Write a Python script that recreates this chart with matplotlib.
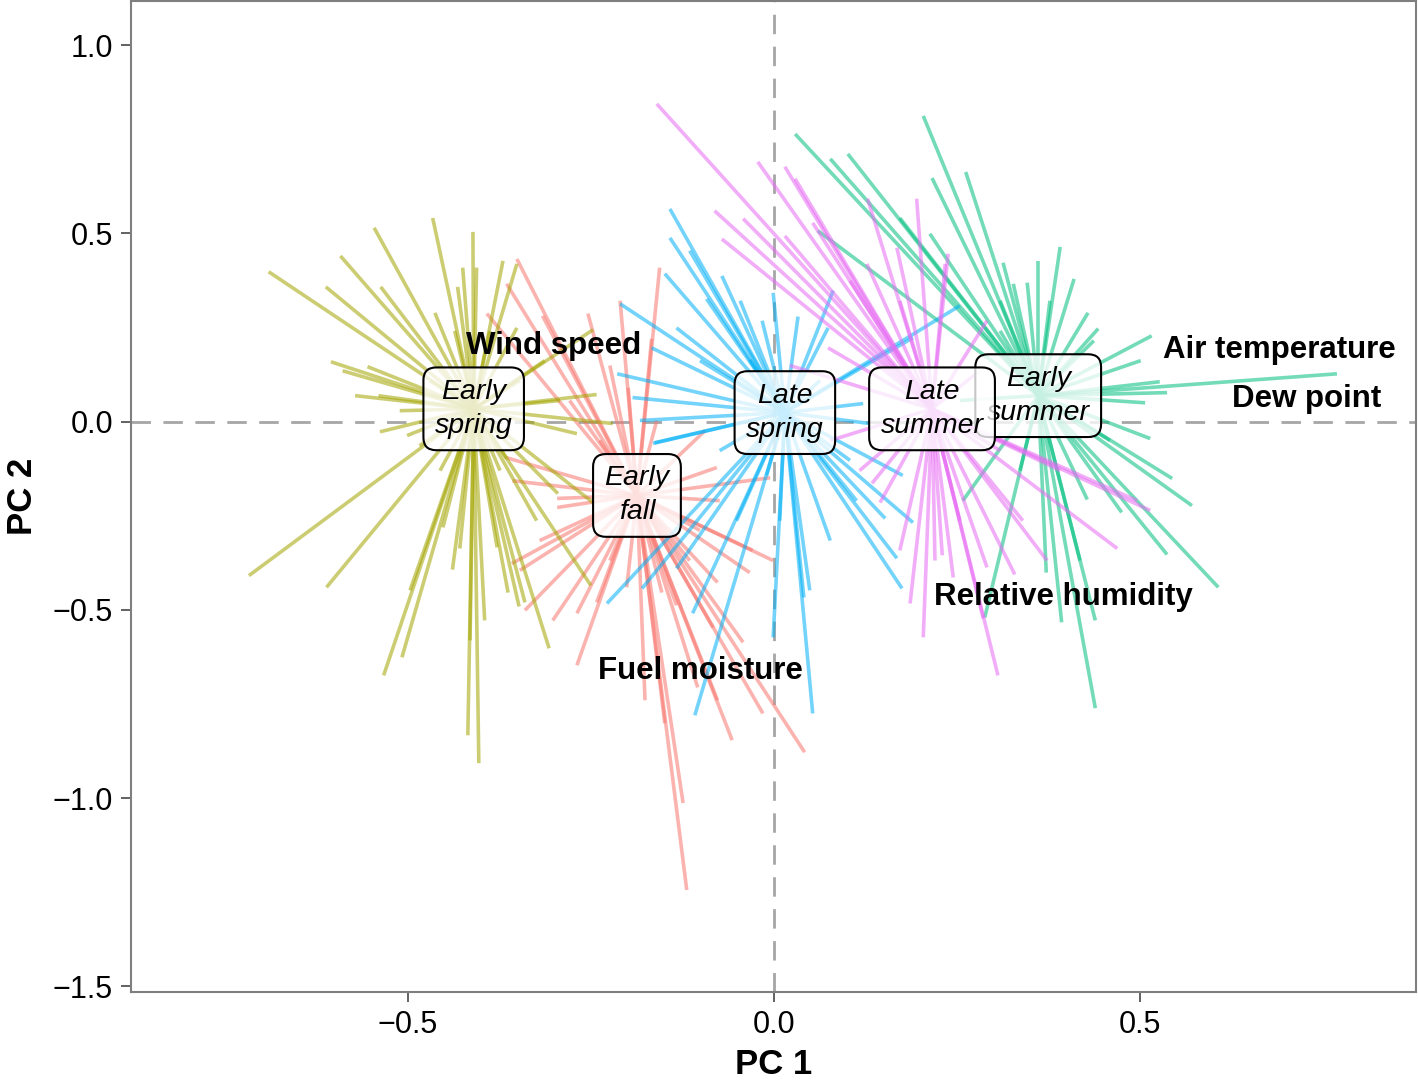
import matplotlib.pyplot as plt
import numpy as np

plt.rcParams['font.family'] = ['Liberation Sans', 'DejaVu Sans']

groups = ['Early fall', 'Early spring', 'Early summer', 'Late spring', 'Late summer']
group_labels = ['Early\nfall', 'Early\nspring', 'Early\nsummer', 'Late\nspring', 'Late\nsummer']
colors = ['#F8766D', '#A3A500', '#00BF7D', '#00B0F6', '#E76BF3']

# group centroids (PC1, PC2)
cent_x = [-0.187, -0.410, 0.361, 0.015, 0.216]
cent_y = [-0.196, 0.034, 0.069, 0.024, 0.034]

# observation scores per group
fall_x = [-0.351, -0.156, -0.365, -0.316, -0.254, -0.392, -0.224, -0.199, -0.365, -0.357,
          -0.296, -0.296, -0.005, -0.029, -0.101, -0.078, -0.358, -0.347, -0.340, -0.302,
          -0.269, -0.269, -0.242, -0.201, -0.153, -0.149, -0.124, -0.119, -0.104, -0.077,
          -0.057, -0.015, 0.042, -0.042, -0.083, -0.033, -0.001, -0.077, -0.133, -0.094,
          -0.074, -0.238, -0.279, -0.160, -0.115, -0.224, -0.320, -0.167, -0.210, -0.176]
fall_y = [0.432, 0.409, 0.366, 0.281, 0.287, 0.287, 0.149, 0.090, -0.096, -0.157,
          -0.204, -0.228, -0.149, -0.342, -0.289, -0.122, -0.377, -0.395, -0.501, -0.528,
          -0.509, -0.647, -0.480, -0.440, -0.454, -0.801, -1.013, -1.244, -0.706, -0.740,
          -0.846, -0.775, -0.878, -0.586, -0.547, -0.401, -0.369, -0.427, -0.488, -0.024,
          -0.210, -0.050, 0.056, 0.003, -0.369, -0.369, -0.316, 0.220, 0.321, -0.740]

espring_x = [-0.690, -0.592, -0.546, -0.466, -0.411, -0.612, -0.537, -0.463, -0.425, -0.406,
             -0.370, -0.351, -0.432, -0.351, -0.247, -0.605, -0.555, -0.589, -0.540, -0.242,
             -0.538, -0.501, -0.220, -0.269, -0.717, -0.611, -0.533, -0.508, -0.497, -0.439,
             -0.429, -0.418, -0.403, -0.363, -0.348, -0.340, -0.307, -0.250, -0.324, -0.295,
             -0.365, -0.247, -0.452, -0.378, -0.470, -0.347, -0.456, -0.374, -0.292, -0.511,
             -0.436, -0.388, -0.484, -0.313, -0.415, -0.395, -0.572]
espring_y = [0.398, 0.440, 0.515, 0.541, 0.504, 0.358, 0.358, 0.289, 0.409, 0.409,
             0.427, 0.419, 0.358, 0.249, 0.244, 0.159, 0.146, 0.135, 0.069, 0.072,
             -0.027, -0.037, -0.005, -0.032, -0.409, -0.440, -0.674, -0.626, -0.448, -0.393,
             -0.337, -0.833, -0.907, -0.454, -0.491, -0.480, -0.602, -0.435, -0.263, -0.191,
             -0.098, -0.215, -0.281, -0.334, 0.109, 0.109, -0.130, -0.130, 0.056, 0.029,
             0.241, 0.241, -0.064, 0.162, -0.581, -0.528, 0.069]

esummer_x = [0.029, 0.077, 0.101, 0.060, 0.204, 0.216, 0.262, 0.213, 0.313, 0.391,
             0.361, 0.410, 0.429, 0.443, 0.516, 0.172, 0.346, 0.327, 0.769, 0.537,
             0.507, 0.514, 0.544, 0.571, 0.607, 0.537, 0.475, 0.439, 0.439, 0.393,
             0.372, 0.288, 0.258, 0.428, 0.527, 0.309, 0.437, 0.501, 0.459, 0.336,
             0.254, 0.309, 0.377, 0.418]
esummer_y = [0.764, 0.698, 0.711, 0.507, 0.812, 0.647, 0.663, 0.499, 0.422, 0.464,
             0.427, 0.379, 0.289, 0.247, 0.228, 0.541, 0.369, 0.366, 0.127, 0.077,
             0.050, -0.045, -0.151, -0.223, -0.440, -0.353, -0.241, -0.528, -0.761, -0.533,
             -0.401, -0.520, -0.210, -0.207, 0.106, 0.241, 0.215, 0.162, -0.050, -0.130,
             0.056, 0.321, 0.321, -0.369]

lspring_x = [-0.142, -0.142, -0.149, -0.210, -0.071, -0.092, -0.133, -0.167, -0.214, -0.193,
             -0.165, -0.001, -0.016, 0.033, 0.074, 0.081, 0.254, 0.190, 0.122, 0.131,
             -0.163, -0.228, -0.180, -0.133, -0.111, -0.108, -0.051, -0.001, -0.010, 0.049,
             0.053, 0.041, 0.152, 0.168, 0.175, 0.190, 0.176, 0.113, -0.183, -0.101,
             -0.033, -0.046, 0.063, 0.104, 0.008, 0.077, -0.074, -0.115]
lspring_y = [0.565, 0.488, 0.393, 0.313, 0.387, 0.326, 0.249, 0.196, 0.127, 0.064,
             -0.058, 0.342, 0.268, 0.279, 0.249, 0.348, 0.308, 0.223, 0.048, -0.005,
             -0.056, -0.483, -0.443, -0.390, -0.509, -0.780, -0.263, -0.573, -0.143, -0.448,
             -0.775, -0.467, -0.257, -0.363, -0.443, -0.268, -0.143, -0.210, 0.003, 0.162,
             0.164, 0.321, 0.109, -0.103, -0.263, -0.316, -0.077, 0.454]

lsummer_x = [-0.160, -0.081, -0.071, -0.042, -0.022, 0.015, 0.029, 0.015, 0.053, 0.128,
             0.168, 0.195, 0.127, 0.238, 0.074, 0.291, 0.234, 0.145, 0.134, 0.172,
             0.186, 0.204, 0.230, 0.245, 0.286, 0.306, 0.291, 0.329, 0.340, 0.373,
             0.469, 0.496, 0.514, 0.022, 0.077, 0.117, 0.309, 0.391, 0.281, 0.172,
             0.104, 0.220, 0.254]
lsummer_y = [0.844, 0.560, 0.485, 0.539, 0.690, 0.677, 0.645, 0.493, 0.528, 0.592,
             0.462, 0.592, 0.419, 0.446, 0.196, 0.268, 0.419, -0.215, -0.164, -0.342,
             -0.483, -0.573, -0.355, -0.414, -0.523, -0.674, -0.387, -0.406, -0.263, -0.369,
             -0.337, -0.210, -0.236, 0.149, -0.050, -0.130, -0.077, -0.130, 0.135, 0.321,
             0.374, -0.369, -0.263]

scores_x = [fall_x, espring_x, esummer_x, lspring_x, lsummer_x]
scores_y = [fall_y, espring_y, esummer_y, lspring_y, lsummer_y]

# variable label positions
variables = ['Wind speed', 'Air temperature', 'Dew point', 'Relative humidity', 'Fuel moisture']
var_x = [-0.301, 0.690, 0.727, 0.396, -0.100]
var_y = [0.202, 0.191, 0.061, -0.467, -0.663]

fig = plt.figure(figsize=(14.18, 10.81), dpi=100)
ax = fig.add_axes([0.0924, 0.0823, 0.9062, 0.9167])

ax.axhline(0, color='#a6a6a6', linestyle=(0, (7, 4.5)), linewidth=2, zorder=1)
ax.axvline(0, color='#a6a6a6', linestyle=(0, (7, 4.5)), linewidth=2, zorder=1)

for i in range(len(groups)):
    for px, py in zip(scores_x[i], scores_y[i]):
        ax.plot([cent_x[i], px], [cent_y[i], py], color=colors[i], alpha=0.55,
                linewidth=2.6, solid_capstyle='butt', zorder=2)

for i in range(len(groups)):
    ax.text(cent_x[i], cent_y[i], group_labels[i], fontsize=20.5, style='italic',
            ha='center', va='center', linespacing=1.4, zorder=4,
            bbox=dict(boxstyle='round,pad=0.4,rounding_size=0.45', facecolor=(1, 1, 1, 0.78),
                      edgecolor='black', linewidth=1.5))

for name, vx, vy in zip(variables, var_x, var_y):
    ax.text(vx, vy, name, fontsize=22.5, fontweight='bold', ha='center', va='center', zorder=5)

ax.set_xlim(-0.878, 0.877)
ax.set_ylim(-1.515, 1.117)
ax.set_xticks([-0.5, 0.0, 0.5])
ax.set_yticks([-1.5, -1.0, -0.5, 0.0, 0.5, 1.0])
ax.set_xticklabels(['\u22120.5', '0.0', '0.5'])
ax.set_yticklabels(['\u22121.5', '\u22121.0', '\u22120.5', '0.0', '0.5', '1.0'])
ax.tick_params(labelsize=22, length=7, width=1.3, color='#555555', labelcolor='black', pad=6)
for s in ax.spines.values():
    s.set_color('#7f7f7f')
    s.set_linewidth(1.5)

ax.set_xlabel('PC 1', fontsize=25, fontweight='bold', labelpad=6)
ax.set_ylabel('PC 2', fontsize=25, fontweight='bold', labelpad=10)

plt.savefig('out.png', dpi=100)
